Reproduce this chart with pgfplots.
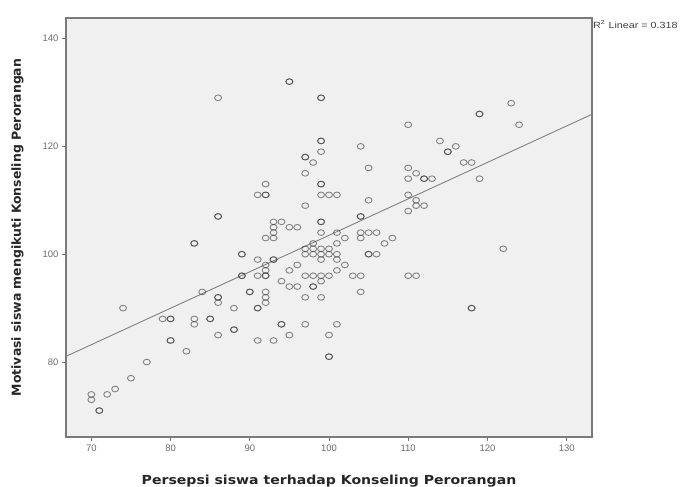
\documentclass[border=0pt]{standalone}
\usepackage{pgfplots}
\pgfplotsset{compat=1.18}
\usepackage{fontspec}
\setmainfont{Liberation Sans}
\newfontfamily\labfont{DejaVu Sans}
\definecolor{bgc}{HTML}{F0F0F0}
\definecolor{framec}{HTML}{7A7A7A}
\definecolor{ptc}{HTML}{333333}
\definecolor{ticklab}{HTML}{6A6A6A}
\begin{document}
\begin{tikzpicture}
\path[use as bounding box] (-66bp,-50bp) rectangle (620bp,437bp);
\begin{axis}[
  at={(0,0)}, anchor=south west,
  scale only axis, width=526bp, height=419bp,
  xmin=66.8, xmax=133.2, ymin=66.1, ymax=143.8,
  xtick={70,80,...,130}, ytick={80,100,120,140},
  axis background/.style={fill=bgc},
  axis line style={framec, line width=1.3pt},
  tick style={framec, line width=0.8pt},
  tick align=outside, major tick length=4bp,
  xtick pos=bottom, ytick pos=left,
  /pgf/number format/assume math mode=true,
  ticklabel style={font=\fontsize{9.5}{10}\selectfont, text=ticklab},
  xlabel={\scalebox{1.13}[1]{Persepsi siswa terhadap Konseling Perorangan}},
  ylabel={Motivasi siswa mengikuti Konseling Perorangan},
  xlabel style={font=\labfont\bfseries\fontsize{12.5}{14}\selectfont, text=black!85, at={(axis description cs:0.5,-0.105)}, anchor=center},
  ylabel style={font=\labfont\bfseries\fontsize{12.5}{14}\selectfont, text=black!85, at={(axis description cs:-0.092,0.5)}, anchor=center},
  clip=false,
]
\addplot[domain=66.8:133.2, samples=2, color=black!50, line width=0.9pt] {35.9+0.676*x};
\addplot[only marks, mark=o, mark size=3.1bp, mark options={draw=ptc, line width=0.9pt, draw opacity=0.58, xscale=1.12, yscale=0.92}] table {
x y
70 74
70 73
71 71
71 71
72 74
73 75
74 90
75 77
77 80
79 88
80 88
80 88
80 84
80 84
82 82
83 102
83 102
83 88
83 87
84 93
85 88
85 88
86 129
86 107
86 107
86 92
86 92
86 91
86 85
88 90
88 86
88 86
89 96
89 96
89 100
89 100
90 93
90 93
91 90
91 90
91 84
91 111
91 99
91 96
92 113
92 111
92 111
92 103
92 98
92 97
92 96
92 96
92 93
92 92
92 91
93 106
93 105
93 104
93 103
93 99
93 99
93 84
94 106
94 95
94 87
94 87
95 132
95 132
95 105
95 97
95 94
95 85
96 105
96 98
96 94
97 118
97 118
97 115
97 109
97 101
97 100
97 96
97 92
97 87
98 117
98 102
98 101
98 100
98 96
98 94
98 94
99 129
99 129
99 121
99 121
99 119
99 113
99 113
99 111
99 106
99 106
99 104
99 101
99 100
99 99
99 96
99 95
99 92
100 111
100 101
100 100
100 96
100 85
100 81
100 81
101 111
101 104
101 102
101 100
101 99
101 97
101 87
102 103
102 98
103 96
104 120
104 107
104 107
104 104
104 103
104 96
104 93
105 116
105 110
105 104
105 100
105 100
106 104
106 100
107 102
108 103
110 124
110 116
110 114
110 111
110 108
110 96
111 115
111 110
111 109
111 96
112 114
112 114
112 109
113 114
114 121
115 119
115 119
116 120
117 117
118 117
118 90
118 90
119 126
119 126
119 114
122 101
123 128
124 124
};
\node[anchor=west, font=\fontsize{9}{10}\selectfont, text=black!75, inner sep=1bp] at (rel axis cs:1,0.985) {\scalebox{1.2}[1]{R\textsuperscript{2} Linear = 0.318}};
\end{axis}
\end{tikzpicture}
\end{document}
